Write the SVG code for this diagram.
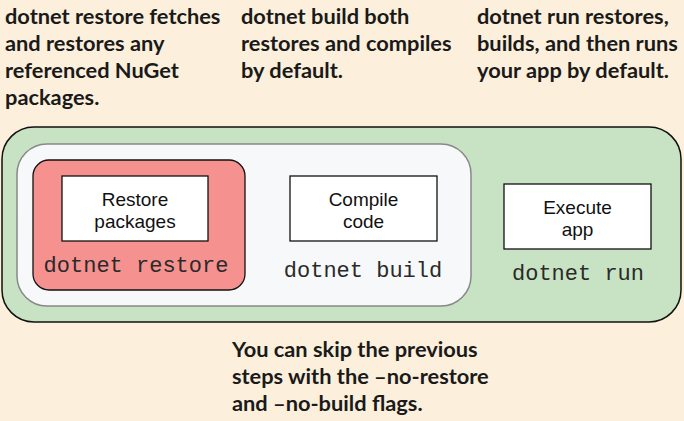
<svg xmlns="http://www.w3.org/2000/svg" width="684" height="421" viewBox="0 0 684 421">
<style>
.note{font-family:Lato,"Open Sans","Liberation Sans",sans-serif;font-weight:bold;font-size:21.8px;fill:#1a1a1a}
.lbl{font-family:"Liberation Sans",Arial,sans-serif;font-size:19px;fill:#111;text-anchor:middle}
.cmd{font-family:"Liberation Mono","Courier New",monospace;font-size:22px;fill:#2a2a2a;text-anchor:middle}
.box{fill:#ffffff;stroke:#111;stroke-width:1.3}
</style>
<rect x="0" y="0" width="684" height="421" fill="#fcefdb"/>
<g id="notes">
<text class="note" x="5" y="24">dotnet restore fetches</text>
<text class="note" x="5" y="51">and restores any</text>
<text class="note" x="5" y="78">referenced NuGet</text>
<text class="note" x="5" y="105">packages.</text>
<text class="note" x="241" y="24">dotnet build both</text>
<text class="note" x="241" y="51">restores and compiles</text>
<text class="note" x="241" y="78">by default.</text>
<text class="note" x="477" y="24">dotnet run restores,</text>
<text class="note" x="477" y="51">builds, and then runs</text>
<text class="note" x="477" y="78">your app by default.</text>
<text class="note" x="232" y="357">You can skip the previous</text>
<text class="note" x="232" y="384">steps with the –no-restore</text>
<text class="note" x="232" y="411">and –no-build flags.</text>
</g>
<g id="run">
<rect x="2" y="127" width="679" height="195" rx="32" fill="#c8e3c3" stroke="#111" stroke-width="1.5"/>
<rect class="box" x="504" y="184" width="147" height="65"/>
<text class="lbl" x="577.5" y="214">Execute</text>
<text class="lbl" x="577.5" y="236">app</text>
<text class="cmd" x="578" y="280">dotnet run</text>
</g>
<g id="build">
<rect x="17" y="144" width="454" height="162" rx="30" fill="#f7f8fa" stroke="#888" stroke-width="1.5"/>
<rect class="box" x="290" y="176" width="147" height="65"/>
<text class="lbl" x="363.5" y="206">Compile</text>
<text class="lbl" x="363.5" y="228">code</text>
<text class="cmd" x="363" y="277">dotnet build</text>
</g>
<g id="restore">
<rect x="33" y="160" width="212" height="130" rx="16" fill="#f5928f" stroke="#111" stroke-width="1.3"/>
<rect class="box" x="62" y="176" width="146" height="65"/>
<text class="lbl" x="135" y="206">Restore</text>
<text class="lbl" x="135" y="228">packages</text>
<text class="cmd" x="136" y="272">dotnet restore</text>
</g>
<g id="connectors"></g>
</svg>
